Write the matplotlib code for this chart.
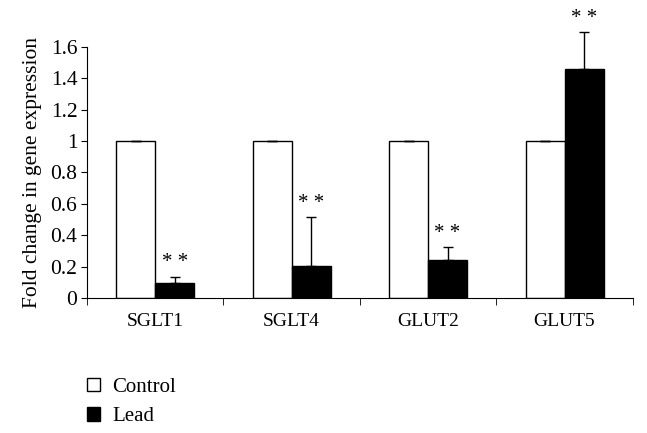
import matplotlib.pyplot as plt
import numpy as np

plt.rcParams['font.family'] = ['Liberation Serif', 'DejaVu Serif']

genes = ['SGLT1', 'SGLT4', 'GLUT2', 'GLUT5']
control = [1.0, 1.0, 1.0, 1.0]
control_err = [0.0, 0.0, 0.0, 0.0]
lead = [0.094, 0.206, 0.244, 1.459]
lead_err = [0.042, 0.308, 0.079, 0.235]
stars = ['* *', '* *', '* *', '* *']

fig = plt.figure(figsize=(6.47, 4.33), dpi=100)
ax = fig.add_axes([0.1345, 0.312, 0.8435, 0.5795])

x = np.arange(len(genes))
w = 0.286
err_kw = dict(ecolor='black', elinewidth=1.0, capsize=3.5, capthick=1.0)
b1 = ax.bar(x - w / 2, control, w, color='white', edgecolor='black', linewidth=1.0,
            yerr=[np.zeros(4), control_err], error_kw=err_kw, label='Control')
b2 = ax.bar(x + w / 2, lead, w, color='black', edgecolor='black', linewidth=1.0,
            yerr=[np.zeros(4), lead_err], error_kw=err_kw, label='Lead')
# error bars may go above the top of the axis
for line in ax.lines:
    line.set_clip_on(False)
for coll in ax.collections:
    coll.set_clip_on(False)

# significance marks
for i in range(len(genes)):
    ax.text(x[i] + w / 2, lead[i] + lead_err[i] + 0.03, stars[i], ha='center', va='bottom',
            fontsize=15, clip_on=False)

ax.set_xlim(-0.5, len(genes) - 0.5)
ax.set_ylim(0, 1.6)
ax.set_yticks(np.arange(0, 1.61, 0.2))
ax.set_yticklabels(['0', '0.2', '0.4', '0.6', '0.8', '1', '1.2', '1.4', '1.6'])
ax.set_xticks(x)
ax.set_xticklabels(genes)
ax.tick_params(axis='x', length=0, labelsize=14, pad=11)
ax.set_xticks(np.arange(-0.5, len(genes), 1), minor=True)
ax.tick_params(axis='x', which='minor', length=5, direction='out')
ax.tick_params(axis='y', length=4, direction='out', labelsize=15.5, pad=3)
ax.spines['top'].set_visible(False)
ax.spines['right'].set_visible(False)
ax.set_ylabel('Fold change in gene expression', fontsize=15.5, labelpad=6)

fig.legend(handles=[b1, b2], labels=['Control', 'Lead'], loc='upper left',
           bbox_to_anchor=(0.1345, 0.127), frameon=False, fontsize=15,
           borderpad=0, borderaxespad=0,
           handlelength=0.6, handleheight=0.6, handletextpad=0.62, labelspacing=0.5)

fig.savefig('out.png', dpi=100)
